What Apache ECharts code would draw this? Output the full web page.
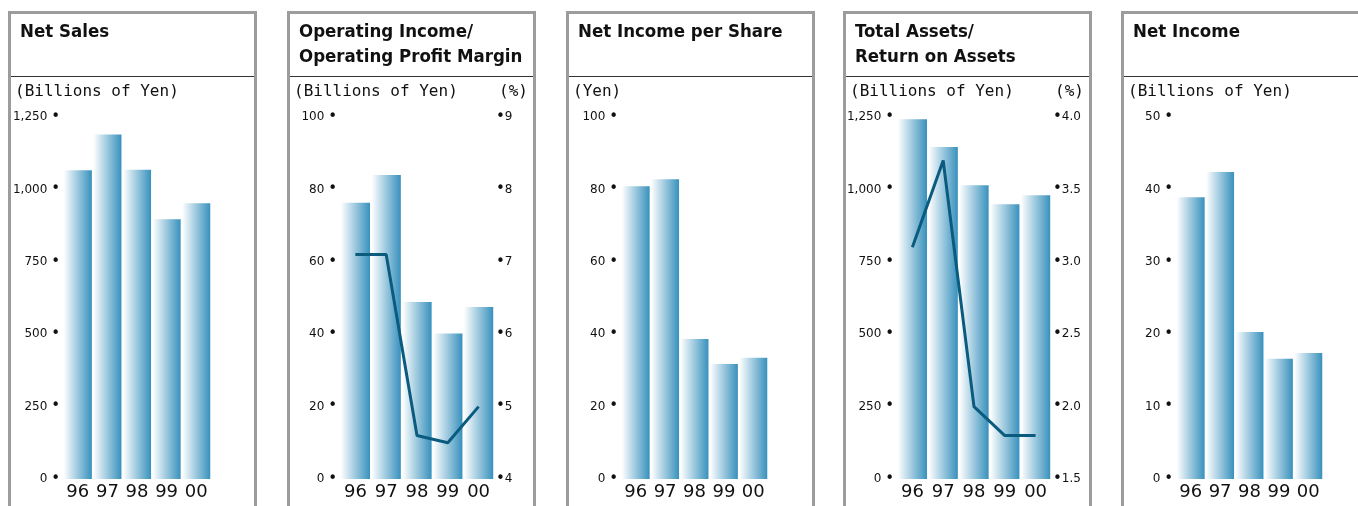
<!DOCTYPE html>
<html><head><meta charset="utf-8">
<script src="https://cdn.jsdelivr.net/npm/echarts@6/dist/echarts.min.js"></script>
<style>html,body{margin:0;padding:0;background:#fff}#c{width:1358px;height:506px}</style>
</head><body><div id="c"></div>
<script>
// ---- data ----
const years = ['96', '97', '98', '99', '00'];
const netSales = [1066, 1190, 1068, 897, 952];
const operatingIncome = [76.3, 84.0, 48.9, 40.2, 47.5];
const operatingMargin = [7.1, 7.1, 4.6, 4.5, 5.0];
const netIncomePerShare = [80.9, 82.8, 38.7, 31.8, 33.5];
const totalAssets = [1242, 1146, 1014, 949, 980];
const returnOnAssets = [3.1, 3.7, 2.0, 1.8, 1.8];
const netIncome = [38.9, 42.4, 20.3, 16.6, 17.4];

const panelTitles = ['Net Sales', 'Operating Income/\nOperating Profit Margin', 'Net Income per Share', 'Total Assets/\nReturn on Assets', 'Net Income'];
const leftUnits = ['(Billions of Yen)', '(Billions of Yen)', '(Yen)', '(Billions of Yen)', '(Billions of Yen)'];
const rightUnits = [null, '(%)', null, '(%)', null];
const leftAxisMax = [1250, 100, 100, 1250, 50];
const leftAxisStep = [250, 20, 20, 250, 10];
const marginAxis = { min: 4, max: 9, step: 1 };
const roaAxis = { min: 1.5, max: 4.0, step: 0.5 };

// ---- layout ----
const panelLeft = [8, 287, 566, 843, 1121];
const gridLeft = [63, 340, 621, 897, 1176];
const gridWidth = [148, 154, 147, 154, 147];
const GRID_TOP = 117, GRID_H = 362;

const chart = echarts.init(document.getElementById('c'));
const barColor = new echarts.graphic.LinearGradient(0, 0, 1, 0, [
  { offset: 0, color: '#ffffff' },
  { offset: 1, color: '#3891bd' }
]);
const lineColor = '#0b5b7f';
const txt = '#111';
const axisFont = 'DejaVu Sans';
const dotRich = { d: { fontSize: 15, fontFamily: axisFont, color: txt } };

const grids = [], xAxes = [], yAxes = [], series = [], graphics = [];
for (let i = 0; i < 5; i++) {
  grids.push({ left: gridLeft[i], top: GRID_TOP, width: gridWidth[i], height: GRID_H });
  xAxes.push({
    type: 'category', gridIndex: i, data: years,
    axisLine: { show: false }, axisTick: { show: false },
    axisLabel: { interval: 0, margin: 4, fontSize: 18, fontFamily: axisFont, color: txt }
  });
  yAxes.push({
    type: 'value', gridIndex: i, min: 0, max: leftAxisMax[i], interval: leftAxisStep[i],
    axisLine: { show: false }, axisTick: { show: false }, splitLine: { show: false },
    axisLabel: {
      margin: 3, fontSize: 12, fontFamily: axisFont, color: txt, rich: dotRich,
      formatter: v => v.toLocaleString('en-US') + ' {d|•}'
    }
  });
}
// right axes
yAxes.push({
  type: 'value', gridIndex: 1, position: 'right', min: marginAxis.min, max: marginAxis.max, interval: marginAxis.step,
  axisLine: { show: false }, axisTick: { show: false }, splitLine: { show: false },
  axisLabel: { margin: 2, fontSize: 12, fontFamily: axisFont, color: txt, rich: dotRich, formatter: v => '{d|•}' + v }
});
yAxes.push({
  type: 'value', gridIndex: 3, position: 'right', min: roaAxis.min, max: roaAxis.max, interval: roaAxis.step,
  axisLine: { show: false }, axisTick: { show: false }, splitLine: { show: false },
  axisLabel: { margin: 2, fontSize: 12, fontFamily: axisFont, color: txt, rich: dotRich, formatter: v => '{d|•}' + v.toFixed(1) }
});

const barSeries = (name, idx, data) => ({
  name, type: 'bar', xAxisIndex: idx, yAxisIndex: idx, data,
  barCategoryGap: '5%', itemStyle: { color: barColor }, silent: true, animation: false
});
const lineSeries = (name, xIdx, yIdx, data) => ({
  name, type: 'line', xAxisIndex: xIdx, yAxisIndex: yIdx, data, z: 5,
  symbol: 'none', lineStyle: { color: lineColor, width: 3 }, silent: true, animation: false
});
series.push(barSeries('Net Sales', 0, netSales));
series.push(barSeries('Operating Income', 1, operatingIncome));
series.push(lineSeries('Operating Profit Margin', 1, 5, operatingMargin));
series.push(barSeries('Net Income per Share', 2, netIncomePerShare));
series.push(barSeries('Total Assets', 3, totalAssets));
series.push(lineSeries('Return on Assets', 3, 6, returnOnAssets));
series.push(barSeries('Net Income', 4, netIncome));

for (let i = 0; i < 5; i++) {
  const L = panelLeft[i];
  graphics.push({
    type: 'rect', silent: true, z: 0,
    shape: { x: L + 1.5, y: 12.5, width: 246, height: 600 },
    style: { fill: '#fff', stroke: '#9c9c9c', lineWidth: 3 }
  });
  graphics.push({
    type: 'line', silent: true, z: 1,
    shape: { x1: L + 3, y1: 76.5, x2: L + 246, y2: 76.5 },
    style: { stroke: '#333', lineWidth: 1.2 }
  });
  graphics.push({
    type: 'text', silent: true, z: 2,
    style: {
      text: panelTitles[i], x: L + 12, y: 19.5, verticalAlign: 'top',
      fontFamily: '"DejaVu Sans Condensed", sans-serif',
      fontWeight: 'bold', fontSize: 18.5, lineHeight: 25, fill: txt
    }
  });
  graphics.push({
    type: 'text', silent: true, z: 2,
    style: {
      text: leftUnits[i], x: L + 7, y: 91.5, verticalAlign: 'middle',
      fontFamily: '"DejaVu Sans Mono"', fontSize: 16, fill: txt
    }
  });
  if (rightUnits[i]) {
    graphics.push({
      type: 'text', silent: true, z: 2,
      style: {
        text: rightUnits[i], x: L + 241, y: 91.5, verticalAlign: 'middle', align: 'right',
        fontFamily: '"DejaVu Sans Mono"', fontSize: 16, fill: txt
      }
    });
  }
}

chart.setOption({
  animation: false,
  backgroundColor: '#fff',
  graphic: { elements: graphics },
  grid: grids, xAxis: xAxes, yAxis: yAxes, series
});
</script></body></html>
